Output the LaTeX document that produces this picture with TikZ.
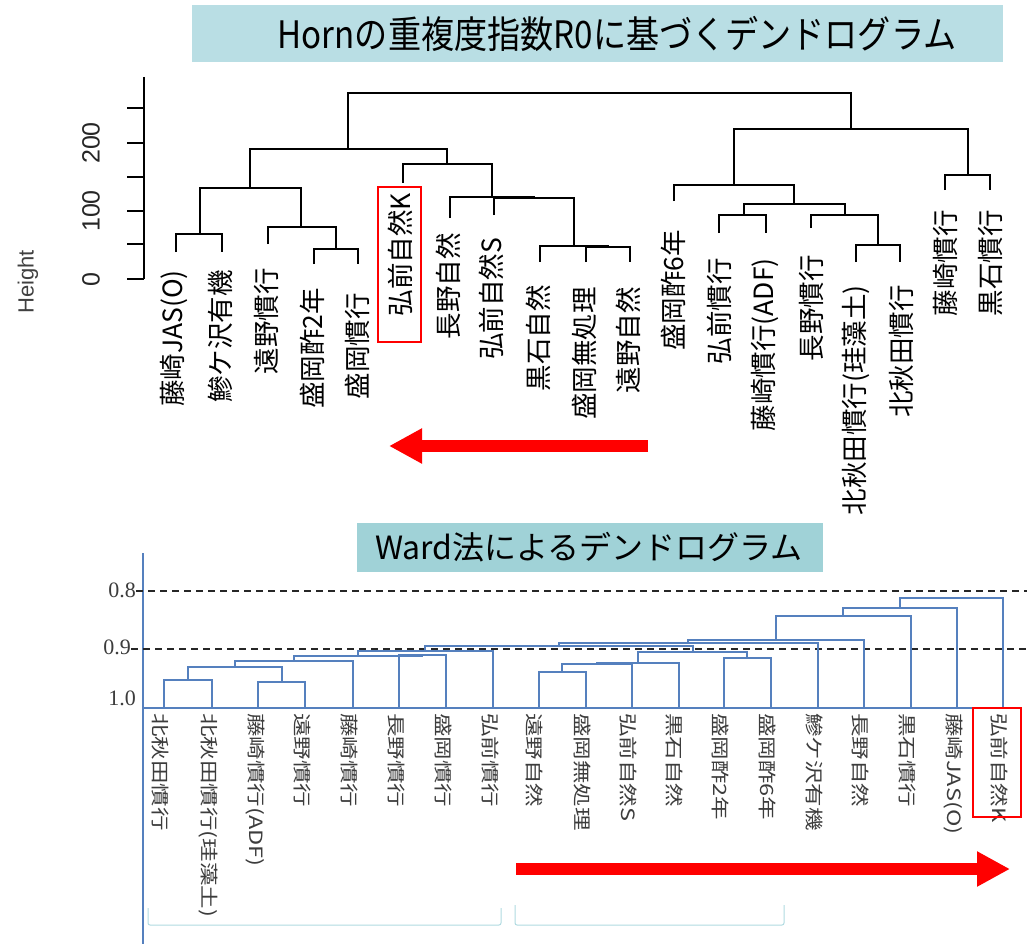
\documentclass[tikz,border=0pt]{standalone}
\usepackage{fontspec}
\usepackage{graphicx}
\setmainfont{Liberation Sans}
\newfontfamily\jp{Noto Sans CJK JP}
\newfontfamily\numserif{Liberation Serif}
\usetikzlibrary{arrows.meta}
\definecolor{titlebg}{RGB}{185,222,228}
\definecolor{titlebgb}{RGB}{160,210,215}
\definecolor{wardblue}{RGB}{85,128,190}
\definecolor{brk}{RGB}{175,218,224}
\definecolor{lblgray}{RGB}{60,60,60}
\definecolor{arrowred}{RGB}{255,0,0}
\tikzset{
  dtop/.style={line width=1.4pt, black},
  dbot/.style={line width=1.4pt, wardblue},
  toplbl/.style={rotate=90, anchor=east, inner sep=0pt, font=\jp\fontsize{26.5}{26.5}\selectfont},
  botlbl/.style={rotate=-90, anchor=west, inner sep=0pt, text=lblgray, font=\jp\fontsize{23.5}{23.5}\selectfont},
  titlebox/.style={inner sep=0pt},
  axnum/.style={rotate=90, inner sep=0pt, text=black!85, font=\fontsize{25}{25}\selectfont},
  wardnum/.style={anchor=east, inner sep=0pt, text=lblgray, font=\numserif\fontsize{22}{22}\selectfont},
  bigarrow/.style={arrowred, line width=11.5pt, -{Triangle[length=33pt,width=33pt]}},
  hilite/.style={draw=arrowred, line width=2.2pt},
  bracket/.style={draw=brk, line width=1pt, rounded corners=2pt},
  guide/.style={dashed, dash pattern=on 7pt off 5pt, line width=1.2pt, black!85}
}
\newcommand\dgT[5]{\draw[dtop] (#1,#4) |- (#2,#3) -- (#2,#5);}
\newcommand\dgB[5]{\draw[dbot] (#1,#4) |- (#2,#3) -- (#2,#5);}
\begin{document}
\begin{tikzpicture}[x=1pt,y=-1pt]
\path[use as bounding box] (0,0) rectangle (1027,944);

% ---------- top title ----------
\fill[titlebg] (192,5) rectangle (1003,62);
\node[titlebox] (t1) at (617,34) {\jp\fontsize{36}{36}\selectfont\scalebox{0.92}[1.05]{Hornの重複度指数R0に基づくデンドログラム}};

% ---------- top axis ----------
\draw[dtop] (144,77) -- (144,279);
\foreach \yy in {108,143,177,211,244,279} \draw[dtop] (127,\yy) -- (144,\yy);
\node[axnum] (n0) at (91,280) {0};
\node[axnum] (n100) at (91,211) {100};
\node[axnum] (n200) at (91,143) {200};
\node[rotate=90, inner sep=0pt, text=black!75, font=\fontsize{22}{22}\selectfont] (hgt) at (28,282) {Height};

% ---------- top dendrogram ----------
\dgT{176}{222}{234}{252}{252}
\dgT{314}{358}{249}{264}{264}
\dgT{268}{336}{227}{244}{249}
\dgT{200}{301}{188}{234}{227}
\dgT{586}{630}{247}{262}{262}
\dgT{540}{608}{246}{262}{247}
\dgT{494}{574}{198}{215}{246}
\dgT{450}{534}{197}{218}{198}
\dgT{403}{492}{164}{183}{197}
\dgT{250}{447}{149}{188}{164}
\dgT{719}{766}{215}{233}{233}
\dgT{856}{900}{245}{262}{262}
\dgT{811}{878}{215}{228}{245}
\dgT{744}{845}{204}{215}{215}
\dgT{674}{794}{185}{201}{204}
\dgT{945}{990}{175}{190}{190}
\dgT{734}{968}{129}{185}{175}
\dgT{348}{851}{93}{149}{129}

% ---------- top labels ----------
\node[toplbl] (tl1) at (174,270) {藤崎JAS(O)};
\node[toplbl] (tl2) at (220,270) {鰺ケ沢有機};
\node[toplbl] (tl3) at (266,268) {遠野慣行};
\node[toplbl] (tl4) at (312,288) {盛岡酢2年};
\node[toplbl] (tl5) at (357,293) {盛岡慣行};
\node[toplbl] (tl6) at (400,193) {弘前自然K};
\node[toplbl] (tl7) at (448,233) {長野自然};
\node[toplbl] (tl8) at (491,238) {弘前自然S};
\node[toplbl] (tl9) at (538,285) {黒石自然};
\node[toplbl] (tl10) at (584,287) {盛岡無処理};
\node[toplbl] (tl11) at (628,287) {遠野自然};
\node[toplbl] (tl12) at (673,230) {盛岡酢6年};
\node[toplbl] (tl13) at (719,258) {弘前慣行};
\node[toplbl] (tl14) at (765,258) {藤崎慣行(ADF)};
\node[toplbl] (tl15) at (811,255) {長野慣行};
\node[toplbl] (tl16) at (856,285) {北秋田慣行(珪藻土)};
\node[toplbl] (tl17) at (901,285) {北秋田慣行};
\node[toplbl] (tl18) at (945,210) {藤崎慣行};
\node[toplbl] (tl19) at (990,210) {黒石慣行};
\draw[hilite] (378,187) rectangle (421,342);

% top arrow
\coordinate (ta1) at (648,446);
\coordinate (ta2) at (389,446);
\draw[bigarrow] (ta1) -- (ta2);

% ---------- bottom title ----------
\fill[titlebgb] (357,523) rectangle (823,572);
\node[titlebox] (t2) at (589,547) {\jp\fontsize{32}{32}\selectfont Ward法によるデンドログラム};

% ---------- bottom axis ----------
\draw[dbot] (143,553) -- (143,944);
\draw[guide] (136,591) -- (1027,591);
\draw[guide] (131,649) -- (1027,649);
\node[wardnum] (w08) at (136,590) {0.8};
\node[wardnum] (w09) at (131,647) {0.9};
\node[wardnum] (w10) at (136,698) {1.0};
\draw[dbot] (143,708) -- (1010,708);

% ---------- bottom dendrogram ----------
\dgB{164}{212}{680}{708}{708}
\dgB{258}{305}{682}{708}{708}
\dgB{188}{282}{667}{680}{682}
\dgB{235}{353}{661}{667}{708}
\dgB{399}{446}{655}{708}{708}
\dgB{294}{422}{656}{661}{655}
\dgB{358}{493}{651}{656}{708}
\dgB{539}{586}{672}{708}{708}
\dgB{562}{632}{664}{672}{708}
\dgB{597}{679}{663}{664}{708}
\dgB{724}{771}{658}{708}{708}
\dgB{638}{747}{652}{663}{658}
\dgB{425}{693}{646}{651}{652}
\dgB{559}{818}{643}{646}{708}
\dgB{688}{864}{640}{643}{708}
\dgB{776}{911}{616}{640}{708}
\dgB{843}{957}{608}{616}{708}
\dgB{900}{1003}{598}{608}{708}

% ---------- bottom labels ----------
\node[botlbl] (bl1) at (160,713) {\scalebox{1}[0.78]{北秋田慣行}};
\node[botlbl] (bl2) at (208,713) {\scalebox{1}[0.78]{北秋田慣行(珪藻土)}};
\node[botlbl] (bl3) at (255,713) {\scalebox{1}[0.78]{藤崎慣行(ADF)}};
\node[botlbl] (bl4) at (302,713) {\scalebox{1}[0.78]{遠野慣行}};
\node[botlbl] (bl5) at (349,713) {\scalebox{1}[0.78]{藤崎慣行}};
\node[botlbl] (bl6) at (396,713) {\scalebox{1}[0.78]{長野慣行}};
\node[botlbl] (bl7) at (443,713) {\scalebox{1}[0.78]{盛岡慣行}};
\node[botlbl] (bl8) at (490,713) {\scalebox{1}[0.78]{弘前慣行}};
\node[botlbl] (bl9) at (535,713) {\scalebox{1}[0.78]{遠野自然}};
\node[botlbl] (bl10) at (582,713) {\scalebox{1}[0.78]{盛岡無処理}};
\node[botlbl] (bl11) at (628,713) {\scalebox{1}[0.78]{弘前自然S}};
\node[botlbl] (bl12) at (675,713) {\scalebox{1}[0.78]{黒石自然}};
\node[botlbl] (bl13) at (720,713) {\scalebox{1}[0.78]{盛岡酢2年}};
\node[botlbl] (bl14) at (767,713) {\scalebox{1}[0.78]{盛岡酢6年}};
\node[botlbl] (bl15) at (814,713) {\scalebox{1}[0.78]{鰺ケ沢有機}};
\node[botlbl] (bl16) at (860,713) {\scalebox{1}[0.78]{長野自然}};
\node[botlbl] (bl17) at (907,713) {\scalebox{1}[0.78]{黒石慣行}};
\node[botlbl] (bl18) at (953,713) {\scalebox{1}[0.78]{藤崎JAS(O)}};
\node[botlbl] (bl19) at (999,713) {\scalebox{1}[0.78]{弘前自然K}};
\draw[hilite] (973,708) rectangle (1021,817);

% bottom arrow
\coordinate (ba1) at (516,869);
\coordinate (ba2) at (1010,869);
\draw[bigarrow] (ba1) -- (ba2);

% brackets
\draw[bracket] (148,908) -- (148,925) -- (501,925) -- (501,908);
\draw[bracket] (515,905) -- (515,925) -- (784,925) -- (784,905);
\end{tikzpicture}
\end{document}
